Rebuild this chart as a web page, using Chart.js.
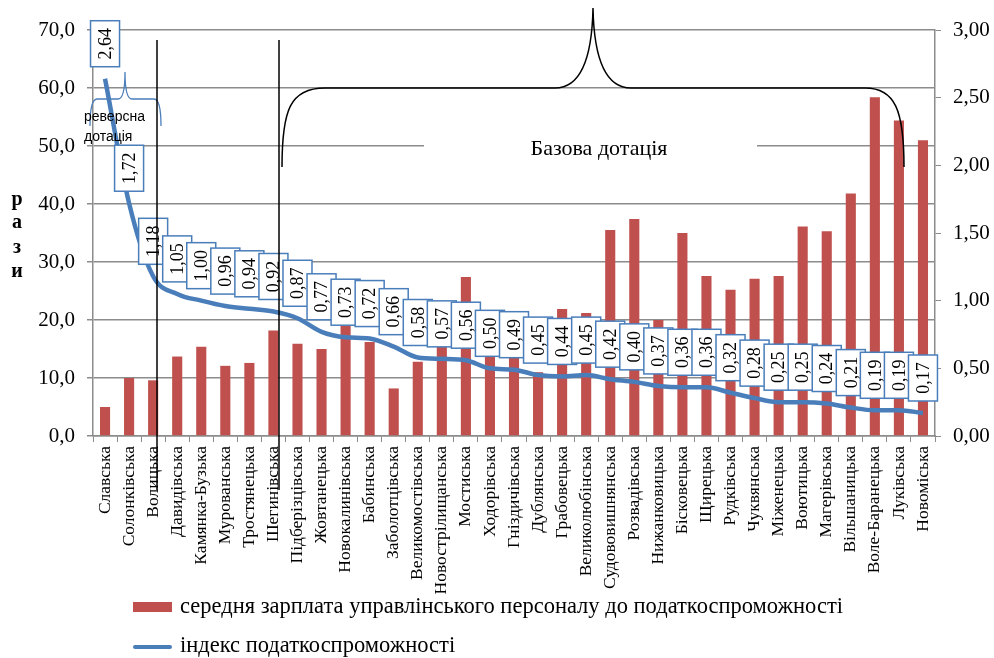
<!DOCTYPE html>
<html>
<head>
<meta charset="utf-8">
<script src="https://cdn.jsdelivr.net/npm/chart.js@4.4.0/dist/chart.umd.min.js"></script>
<style>
  html, body { margin: 0; padding: 0; background: #fff; }
  #wrap { width: 994px; height: 658px; }
</style>
</head>
<body>
<div id="wrap"><canvas id="chart" width="994" height="658"></canvas></div>
<script>
const communities = [
  "Славська", "Солонківська", "Волицька", "Давидівська", "Камянка-Бузька",
  "Мурованська", "Тростянецька", "Шегинівська", "Підберізцівська", "Жовтанецька",
  "Новокалинівська", "Бабинська", "Заболотцівська", "Великомостівська",
  "Новострілищанська", "Мостиська", "Ходорівська", "Гніздичівська", "Дублянська",
  "Грабовецька", "Великолюбінська", "Судововишнянська", "Розвадівська",
  "Нижанковицька", "Бісковецька", "Щирецька", "Рудківська", "Чуквянська",
  "Міженецька", "Воютицька", "Магерівська", "Вільшаницька", "Воле-Баранецька",
  "Луківська", "Новоміська"
];
const salaryRatio = [
  5.0, 10.0, 9.6, 13.7, 15.4, 12.1, 12.6, 18.2, 15.9, 15.0,
  19.0, 16.2, 8.2, 12.8, 15.5, 27.4, 14.0, 13.5, 11.0, 21.9,
  21.2, 35.5, 37.4, 20.0, 35.0, 27.6, 25.2, 27.1, 27.6, 36.1,
  35.3, 41.8, 58.4, 54.4, 51.0
];
const taxIndex = [
  2.64, 1.72, 1.18, 1.05, 1.00, 0.96, 0.94, 0.92, 0.87, 0.77,
  0.73, 0.72, 0.66, 0.58, 0.57, 0.56, 0.50, 0.49, 0.45, 0.44,
  0.45, 0.42, 0.40, 0.37, 0.36, 0.36, 0.32, 0.28, 0.25, 0.25,
  0.24, 0.21, 0.19, 0.19, 0.17
];
const seriesNames = [
  "середня зарплата управлінського персоналу до податкоспроможності",
  "індекс податкоспроможності"
];
const axisLetters = ["р", "а", "з", "и"];

const SERIF = "'Liberation Serif', 'Times New Roman', serif";
const SANS = "'Liberation Sans', Arial, sans-serif";
const GRID = "#8c8c8c";
const RED = "#c0504d";
const BLUE = "#4a7ebb";

function fmt(v, d) {
  return Number(v).toFixed(d).replace(".", ",");
}

// boxed, rotated value labels above the index line
const indexLabels = {
  id: "indexLabels",
  afterDatasetsDraw(chart) {
    const meta = chart.getDatasetMeta(1);
    const ctx = chart.ctx;
    ctx.save();
    ctx.font = "18px " + SERIF;
    meta.data.forEach((pt, i) => {
      const w = 29, h = 46;
      const x = pt.x - w / 2, y = pt.y - 12 - h;
      ctx.fillStyle = "#fff";
      ctx.fillRect(x, y, w, h);
      ctx.strokeStyle = BLUE;
      ctx.lineWidth = 1.5;
      ctx.strokeRect(x, y, w, h);
      ctx.save();
      ctx.translate(pt.x, y + h / 2);
      ctx.rotate(-Math.PI / 2);
      ctx.fillStyle = "#000";
      ctx.textAlign = "center";
      ctx.textBaseline = "middle";
      ctx.fillText(fmt(taxIndex[i], 2), 0, 1);
      ctx.restore();
    });
    ctx.restore();
  }
};

// braces, divider lines, axis title and legend
const annotations = {
  id: "annotations",
  afterDraw(chart) {
    const ctx = chart.ctx;
    const a = chart.chartArea;
    const rx = (px) => a.left + (px - 93) * (a.width / 842);
    const ry = (py) => a.top + (py - 30) * (a.height / 406);
    ctx.save();

    // "Базова дотація" with white box over the gridline
    ctx.fillStyle = "#fff";
    ctx.fillRect(rx(424), ry(137), rx(757) - rx(424), 20);
    ctx.fillStyle = "#000";
    ctx.font = "22px " + SERIF;
    ctx.textAlign = "center";
    ctx.textBaseline = "alphabetic";
    ctx.fillText("Базова дотація", rx(599), ry(155));

    // big black brace
    ctx.strokeStyle = "#000";
    ctx.lineWidth = 1.5;
    ctx.beginPath();
    ctx.moveTo(rx(282), ry(167));
    ctx.bezierCurveTo(rx(282), ry(110), rx(290), ry(88), rx(325), ry(88));
    ctx.lineTo(rx(555), ry(88));
    ctx.bezierCurveTo(rx(580), ry(88), rx(592), ry(60), rx(593), ry(8));
    ctx.bezierCurveTo(rx(594), ry(60), rx(606), ry(88), rx(631), ry(88));
    ctx.lineTo(rx(865), ry(88));
    ctx.bezierCurveTo(rx(895), ry(88), rx(904), ry(110), rx(904), ry(167));
    ctx.stroke();

    // small blue brace
    ctx.strokeStyle = BLUE;
    ctx.lineWidth = 1.3;
    ctx.beginPath();
    ctx.moveTo(rx(90), ry(126));
    ctx.quadraticCurveTo(rx(90), ry(99), rx(97), ry(99));
    ctx.lineTo(rx(118), ry(99));
    ctx.quadraticCurveTo(rx(125), ry(99), rx(125), ry(72));
    ctx.quadraticCurveTo(rx(125), ry(99), rx(132), ry(99));
    ctx.lineTo(rx(154), ry(99));
    ctx.quadraticCurveTo(rx(161), ry(99), rx(161), ry(126));
    ctx.stroke();

    ctx.fillStyle = "#000";
    ctx.font = "14px " + SANS;
    ctx.textAlign = "left";
    ctx.textBaseline = "middle";
    ctx.fillText("реверсна", rx(84), ry(117));
    ctx.fillText("дотація", rx(84), ry(137));

    // vertical divider lines
    ctx.strokeStyle = "#000";
    ctx.lineWidth = 1.5;
    [157, 279].forEach((px) => {
      ctx.beginPath();
      ctx.moveTo(rx(px), ry(40));
      ctx.lineTo(rx(px), ry(490));
      ctx.stroke();
    });

    // stacked axis title
    ctx.font = "bold 20px " + SERIF;
    ctx.textAlign = "center";
    ctx.textBaseline = "middle";
    [200, 223, 248, 272].forEach((py, i) => {
      ctx.fillText(axisLetters[i], 17, py);
    });

    // legend
    ctx.fillStyle = RED;
    ctx.fillRect(133, 602, 39, 10);
    ctx.strokeStyle = BLUE;
    ctx.lineWidth = 4;
    ctx.lineCap = "round";
    ctx.beginPath();
    ctx.moveTo(135, 647);
    ctx.lineTo(170, 647);
    ctx.stroke();
    ctx.fillStyle = "#000";
    ctx.font = "22.5px " + SERIF;
    ctx.textAlign = "left";
    ctx.fillText(seriesNames[0], 180, 607);
    ctx.fillText(seriesNames[1], 180, 646);

    ctx.restore();
  }
};

new Chart(document.getElementById("chart").getContext("2d"), {
  type: "bar",
  data: {
    labels: communities,
    datasets: [
      {
        type: "bar",
        label: seriesNames[0],
        data: salaryRatio,
        yAxisID: "y",
        backgroundColor: RED,
        barPercentage: 0.42,
        categoryPercentage: 1.0,
        order: 2,
      },
      {
        type: "line",
        label: seriesNames[1],
        data: taxIndex,
        yAxisID: "y1",
        borderColor: BLUE,
        borderWidth: 4.5,
        pointRadius: 0,
        cubicInterpolationMode: "monotone",
        order: 1,
      },
    ],
  },
  options: {
    responsive: false,
    animation: false,
    layout: { padding: { top: 30 } },
    scales: {
      x: {
        grid: { drawOnChartArea: false, tickLength: 6, color: GRID, offset: true },
        border: { color: GRID, width: 1.5 },
        ticks: {
          autoSkip: false,
          minRotation: 90,
          maxRotation: 90,
          padding: 4,
          color: "#000",
          font: { family: SERIF, size: 17.5 },
        },
        afterFit(scale) { scale.height = 222; },
      },
      y: {
        position: "left",
        min: 0,
        max: 70,
        ticks: {
          stepSize: 10,
          padding: 12,
          color: "#000",
          font: { family: SERIF, size: 21 },
          callback: (v) => fmt(v, 1),
        },
        grid: { color: GRID, lineWidth: 1.5, tickLength: 6 },
        border: { color: GRID, width: 1.5 },
        afterFit(scale) { scale.width = 93; },
      },
      y1: {
        position: "right",
        min: 0,
        max: 3,
        ticks: {
          stepSize: 0.5,
          padding: 12,
          color: "#000",
          font: { family: SERIF, size: 21 },
          callback: (v) => fmt(v, 2),
        },
        grid: { drawOnChartArea: false, color: GRID, tickLength: 6 },
        border: { color: GRID, width: 1.5 },
        afterFit(scale) { scale.width = 59; },
      },
    },
    plugins: {
      legend: { display: false },
      tooltip: { enabled: false },
    },
  },
  plugins: [indexLabels, annotations],
});
</script>
</body>
</html>
